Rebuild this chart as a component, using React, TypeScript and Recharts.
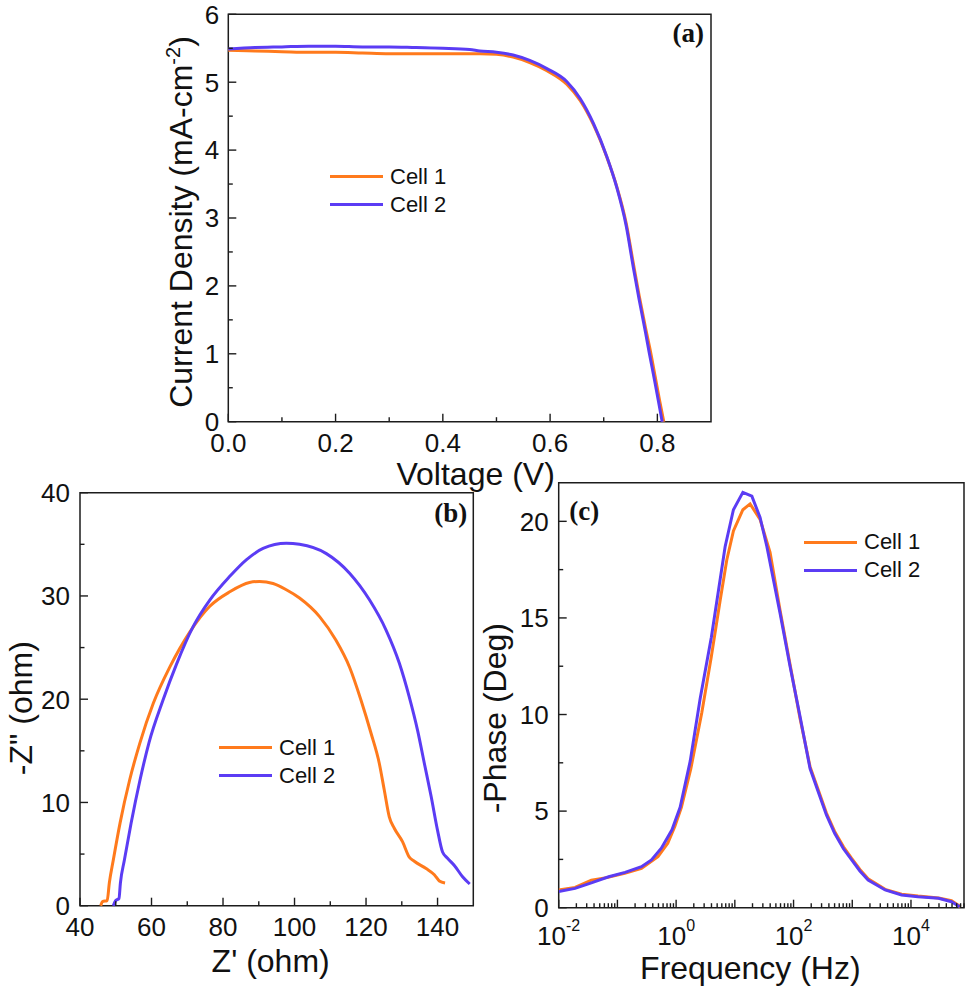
import { Label, Legend, Line, LineChart, ReferenceArea, XAxis, YAxis } from 'recharts'

// (a) J-V curves
const jvVoltage1 = [0, 0.05, 0.1, 0.15, 0.2, 0.25, 0.3, 0.35, 0.4, 0.45, 0.47, 0.5, 0.531, 0.562, 0.594, 0.631, 0.656, 0.681, 0.706, 0.724, 0.742, 0.755, 0.766, 0.778, 0.786, 0.796, 0.804, 0.812]
const jvCurrent1 = [5.47, 5.46, 5.45, 5.44, 5.44, 5.43, 5.42, 5.42, 5.42, 5.42, 5.42, 5.41, 5.37, 5.29, 5.17, 4.97, 4.73, 4.37, 3.89, 3.47, 2.92, 2.34, 1.86, 1.38, 1.08, 0.66, 0.32, 0]
const jvVoltage2 = [0, 0.05, 0.1, 0.15, 0.2, 0.25, 0.3, 0.35, 0.4, 0.45, 0.469, 0.5, 0.531, 0.562, 0.594, 0.631, 0.656, 0.681, 0.706, 0.724, 0.742, 0.755, 0.766, 0.778, 0.785, 0.795, 0.802, 0.809]
const jvCurrent2 = [5.49, 5.51, 5.52, 5.53, 5.53, 5.52, 5.52, 5.51, 5.5, 5.48, 5.46, 5.44, 5.4, 5.32, 5.2, 5.01, 4.76, 4.39, 3.9, 3.46, 2.88, 2.28, 1.8, 1.31, 1.01, 0.6, 0.3, 0]

// (b) Nyquist
const zReal1 = [45.8, 46.3, 47.6, 48.2, 49.3, 51.2, 53.9, 56.7, 60.5, 65.1, 70.7, 76.3, 81.9, 87.4, 90.2, 94.0, 97.7, 101.4, 107.0, 111.6, 115.4, 118.6, 121.4, 123.7, 125.1, 126.5, 127.9, 130.2, 132.1, 133.5, 136.8, 139.1, 140.5, 142.1]
const zImag1 = [0, 0.4, 0.5, 2.2, 4.4, 8.0, 12.2, 15.7, 19.6, 23.1, 26.5, 29.0, 30.4, 31.3, 31.4, 31.2, 30.6, 29.8, 28.0, 25.7, 23.1, 19.9, 16.7, 13.8, 11.2, 8.6, 7.5, 6.2, 4.7, 4.3, 3.6, 3.0, 2.4, 2.2]
const zReal2 = [49.3, 50.0, 50.9, 51.3, 52.4, 54.3, 56.8, 59.3, 63.2, 67.0, 71.6, 76.3, 81.9, 86.5, 91.2, 97.7, 101.4, 108.9, 115.4, 121.0, 125.6, 129.3, 132.1, 134.4, 136.3, 138.2, 140.0, 141.4, 142.8, 144.7, 147.0, 149.0]
const zImag2 = [0, 0.5, 0.7, 2.2, 4.4, 8.0, 12.2, 15.8, 19.9, 23.4, 27.0, 29.6, 31.9, 33.5, 34.6, 35.1, 35.0, 34.1, 32.2, 29.6, 26.7, 23.5, 20.2, 17.0, 13.8, 10.6, 7.3, 5.2, 4.6, 3.9, 2.8, 2.1]

// (c) Bode phase
const freq1 = [0.01, 0.019, 0.036, 0.069, 0.133, 0.257, 0.49, 0.72, 0.95, 1.23, 1.78, 2.74, 3.98, 5.62, 7.29, 9.46, 13.7, 18.2, 26.9, 39.8, 58.9, 87.1, 129, 191, 263, 363, 501, 708, 977, 1349, 1862, 3631, 6918, 13183, 29512, 48978, 70000]
const phase1 = [0.92, 1.05, 1.43, 1.57, 1.78, 2.04, 2.64, 3.34, 4.2, 5.2, 7.2, 10.1, 13.0, 15.9, 18.0, 19.5, 20.6, 20.9, 20.1, 18.4, 15.4, 12.6, 9.8, 7.3, 6.1, 4.9, 3.95, 3.15, 2.55, 1.98, 1.5, 0.95, 0.7, 0.6, 0.5, 0.36, 0.05]
const freq2 = [0.01, 0.019, 0.037, 0.071, 0.135, 0.257, 0.38, 0.56, 0.85, 1.17, 1.74, 2.56, 3.98, 6.84, 9.46, 13.7, 19.5, 26.9, 35.1, 58.9, 87.1, 129, 191, 263, 363, 501, 708, 977, 1349, 1862, 3631, 6918, 13183, 29512, 48978, 67608]
const phase2 = [0.84, 1.0, 1.3, 1.6, 1.83, 2.12, 2.47, 3.08, 4.03, 5.2, 7.6, 10.8, 14.0, 18.7, 20.6, 21.5, 21.3, 20.2, 18.7, 15.25, 12.5, 9.9, 7.2, 6.0, 4.8, 3.85, 3.05, 2.47, 1.9, 1.43, 0.92, 0.66, 0.57, 0.49, 0.31, 0.05]

const seriesNames = ['Cell 1', 'Cell 2']

// ticks
const voltageTicks = [0, 0.1, 0.2, 0.3, 0.4, 0.5, 0.6, 0.7, 0.8]
const voltageLabels = [0, 0.2, 0.4, 0.6, 0.8]
const currentTicks = [0, 0.5, 1, 1.5, 2, 2.5, 3, 3.5, 4, 4.5, 5, 5.5, 6]
const currentLabels = [0, 1, 2, 3, 4, 5, 6]
const zRealTicks = [40, 50, 60, 70, 80, 90, 100, 110, 120, 130, 140]
const zRealLabels = [40, 60, 80, 100, 120, 140]
const zImagTicks = [0, 5, 10, 15, 20, 25, 30, 35, 40]
const zImagLabels = [0, 10, 20, 30, 40]
const phaseTicks = [0, 2.5, 5, 7.5, 10, 12.5, 15, 17.5, 20]
const phaseLabels = [0, 5, 10, 15, 20]
const freqDecades = [0.01, 0.1, 1, 10, 100, 1000, 10000]
const freqLabels = [0.01, 1, 100, 10000]
const freqExponents = ['-2', '0', '2', '4']
const FREQ_MAX = 80000

const freqTicks: number[] = []
freqDecades.forEach((d) => {
  for (let m = 1; m <= 9; m++) {
    const v = Number((m * d).toPrecision(3))
    if (v <= FREQ_MAX) freqTicks.push(v)
  }
})

const ORANGE = '#FF7A1C'
const PURPLE = '#5B3CF4'
const AXIS = '#1c1c1c'
const SANS = '"Liberation Sans", Arial, sans-serif'
const SERIF = '"Liberation Serif", "Times New Roman", serif'

const toPoints = (xs: number[], ys: number[]) => xs.map((x, i) => ({ x, y: ys[i] }))

const MAJOR = 8
const MINOR = 4.5

const bottomTick =
  (isMajor: (v: number) => boolean, label: (v: number) => any, labelDy: number) =>
  (props: any) => {
    const { x, y, payload } = props
    const v = payload.value
    const major = isMajor(v)
    const text = label(v)
    return (
      <g>
        <line x1={x} x2={x} y1={y} y2={y - (major ? MAJOR : MINOR)} stroke={AXIS} strokeWidth={1.4} />
        {text !== null && (
          <text x={x} y={y + labelDy} textAnchor="middle" fontFamily={SANS} fontSize={26} fill="#111">
            {text}
          </text>
        )}
      </g>
    )
  }

const leftTick = (labels: number[], gap: number) => (props: any) => {
  const { x, y, payload } = props
  const v = payload.value
  const major = labels.includes(v)
  return (
    <g>
      <line x1={x} x2={x + (major ? MAJOR : MINOR)} y1={y} y2={y} stroke={AXIS} strokeWidth={1.4} />
      {major && (
        <text x={x - gap} y={y} dy="0.36em" textAnchor="end" fontFamily={SANS} fontSize={26} fill="#111">
          {v}
        </text>
      )}
    </g>
  )
}

const freqLabel = (v: number) => {
  const i = freqLabels.indexOf(v)
  if (i < 0) return null
  return (
    <>
      10
      <tspan dy={-14} fontSize={16}>
        {freqExponents[i]}
      </tspan>
    </>
  )
}

const LegendRows = ({ payload }: any) => (
  <div style={{ fontFamily: SANS, fontSize: 22, color: '#111' }}>
    {(payload ?? []).map((entry: any) => (
      <div key={entry.value} style={{ display: 'flex', alignItems: 'center', height: 28, whiteSpace: 'nowrap' }}>
        <span style={{ display: 'inline-block', width: 53, height: 3, background: entry.color, marginRight: 7 }} />
        <span>{entry.value}</span>
      </div>
    ))}
  </div>
)

const title =
  (text: any, dx: number, dy: number, rotated = false) =>
  ({ viewBox }: any) => {
    const { x, y, width, height } = viewBox
    if (rotated) {
      const cx = x + dx
      const cy = y + height / 2 + dy
      return (
        <text x={cx} y={cy} transform={`rotate(-90 ${cx} ${cy})`} textAnchor="middle" fontFamily={SANS} fontSize={32} fill="#111">
          {text}
        </text>
      )
    }
    return (
      <text x={x + width / 2 + dx} y={y + height + dy} textAnchor="middle" fontFamily={SANS} fontSize={32} fill="#111">
        {text}
      </text>
    )
  }

const panelTag =
  (text: string, dx: number, dy: number, fromRight: boolean) =>
  ({ viewBox }: any) => {
    const { x, y, width } = viewBox
    return (
      <text
        x={fromRight ? x + width - dx : x + dx}
        y={y + dy}
        textAnchor={fromRight ? 'end' : 'start'}
        fontFamily={SERIF}
        fontWeight="bold"
        fontSize={27}
        fill="#111"
      >
        {text}
      </text>
    )
  }

const frameProps = { fill: 'none', fillOpacity: 0, stroke: AXIS, strokeWidth: 1.5 }

const JVPanel = () => (
  <LineChart width={968} height={495} margin={{ top: 14.3, right: 257, bottom: 0, left: 0 }}>
    <XAxis
      type="number"
      dataKey="x"
      domain={[0, 0.9]}
      ticks={voltageTicks}
      interval={0}
      height={73.3}
      axisLine={false}
      tickLine={false}
      tickSize={0}
      tickMargin={0}
      tick={bottomTick((v) => voltageLabels.includes(v), (v) => (voltageLabels.includes(v) ? v.toFixed(1) : null), 30.5)}
    />
    <YAxis
      type="number"
      domain={[0, 6]}
      ticks={currentTicks}
      interval={0}
      width={228.3}
      axisLine={false}
      tickLine={false}
      tickSize={0}
      tickMargin={0}
      tick={leftTick(currentLabels, 9)}
    />
    <ReferenceArea x1={0} x2={0.9} y1={0} y2={6} {...frameProps}>
      <Label content={title('Voltage (V)', 6, 63)} />
      <Label
        content={title(
          <>
            Current Density (mA-cm
            <tspan dy={-12} fontSize={20}>
              -2
            </tspan>
            <tspan dy={12}>)</tspan>
          </>,
          -36,
          4,
          true,
        )}
      />
      <Label content={panelTag('(a)', 7, 28, true)} />
    </ReferenceArea>
    <Legend
      layout="vertical"
      align="center"
      verticalAlign="middle"
      wrapperStyle={{ left: 330, top: 162.7, width: 200, height: 'auto' }}
      content={<LegendRows />}
    />
    <Line data={toPoints(jvVoltage1, jvCurrent1)} dataKey="y" name={seriesNames[0]} type="monotoneX" stroke={ORANGE} strokeWidth={3} dot={false} isAnimationActive={false} />
    <Line data={toPoints(jvVoltage2, jvCurrent2)} dataKey="y" name={seriesNames[1]} type="monotoneX" stroke={PURPLE} strokeWidth={3} dot={false} isAnimationActive={false} />
  </LineChart>
)

const NyquistPanel = () => (
  <LineChart width={478} height={521} margin={{ top: 22.7, right: 4.7, bottom: 0, left: 0 }}>
    <XAxis
      type="number"
      dataKey="x"
      domain={[40, 150]}
      ticks={zRealTicks}
      interval={0}
      height={85.3}
      axisLine={false}
      tickLine={false}
      tickSize={0}
      tickMargin={0}
      tick={bottomTick((v) => zRealLabels.includes(v), (v) => (zRealLabels.includes(v) ? String(v) : null), 30)}
    />
    <YAxis
      type="number"
      domain={[0, 40]}
      ticks={zImagTicks}
      interval={0}
      width={80}
      axisLine={false}
      tickLine={false}
      tickSize={0}
      tickMargin={0}
      tick={leftTick(zImagLabels, 10)}
    />
    <ReferenceArea x1={40} x2={150} y1={0} y2={40} {...frameProps}>
      <Label content={title("Z' (ohm)", -6, 66)} />
      <Label content={title('-Z" (ohm)', -48, 9, true)} />
      <Label content={panelTag('(b)', 6, 29, true)} />
    </ReferenceArea>
    <Legend
      layout="vertical"
      align="center"
      verticalAlign="middle"
      wrapperStyle={{ left: 219, top: 263.7, width: 200, height: 'auto' }}
      content={<LegendRows />}
    />
    <Line data={toPoints(zReal1, zImag1)} dataKey="y" name={seriesNames[0]} type="monotoneX" stroke={ORANGE} strokeWidth={3} dot={false} isAnimationActive={false} />
    <Line data={toPoints(zReal2, zImag2)} dataKey="y" name={seriesNames[1]} type="monotoneX" stroke={PURPLE} strokeWidth={3} dot={false} isAnimationActive={false} />
  </LineChart>
)

const BodePanel = () => (
  <LineChart width={490} height={521} margin={{ top: 12.7, right: 4, bottom: 0, left: 0 }}>
    <XAxis
      type="number"
      dataKey="x"
      scale="log"
      domain={[0.01, FREQ_MAX]}
      allowDataOverflow
      ticks={freqTicks}
      interval={0}
      height={83.3}
      axisLine={false}
      tickLine={false}
      tickSize={0}
      tickMargin={0}
      tick={bottomTick((v) => freqDecades.includes(v), freqLabel, 37)}
    />
    <YAxis
      type="number"
      domain={[0, 22]}
      ticks={phaseTicks}
      interval={0}
      width={80.7}
      axisLine={false}
      tickLine={false}
      tickSize={0}
      tickMargin={0}
      tick={leftTick(phaseLabels, 10)}
    />
    <ReferenceArea x1={0.01} x2={FREQ_MAX} y1={0} y2={22} {...frameProps}>
      <Label content={title('Frequency (Hz)', -11, 71)} />
      <Label content={title('-Phase (Deg)', -52.7, 23, true)} />
      <Label content={panelTag('(c)', 10.6, 37, false)} />
    </ReferenceArea>
    <Legend
      layout="vertical"
      align="center"
      verticalAlign="middle"
      wrapperStyle={{ left: 326, top: 58.3, width: 200, height: 'auto' }}
      content={<LegendRows />}
    />
    <Line data={toPoints(freq1, phase1)} dataKey="y" name={seriesNames[0]} type="linear" stroke={ORANGE} strokeWidth={3} dot={false} isAnimationActive={false} />
    <Line data={toPoints(freq2, phase2)} dataKey="y" name={seriesNames[1]} type="linear" stroke={PURPLE} strokeWidth={3} dot={false} isAnimationActive={false} />
  </LineChart>
)

export default function App() {
  return (
    <div style={{ position: 'absolute', left: 0, top: 0, width: 968, height: 991, background: '#fff' }}>
      <div style={{ position: 'absolute', left: 0, top: 0 }}>
        <JVPanel />
      </div>
      <div style={{ position: 'absolute', left: 0, top: 470 }}>
        <NyquistPanel />
      </div>
      <div style={{ position: 'absolute', left: 478, top: 470 }}>
        <BodePanel />
      </div>
    </div>
  )
}
